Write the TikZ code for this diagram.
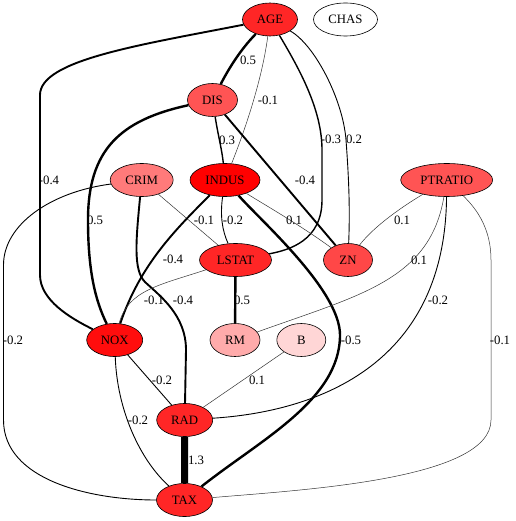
\documentclass[tikz,border=0pt]{standalone}
\usepackage{fontspec}
\setmainfont{Liberation Serif}
\usetikzlibrary{shapes.geometric}

\tikzset{
  var/.style={draw, ellipse, inner sep=0pt, minimum height=33pt, line width=0.6pt,
    font=\fontsize{12.8}{14}\selectfont},
  wlab/.style={inner sep=0pt, font=\fontsize{12.8}{14}\selectfont},
  e1/.style={line width=0.5pt, black!80},
  e2/.style={line width=0.9pt},
  e3/.style={line width=1.4pt},
  e4/.style={line width=1.9pt},
  e5/.style={line width=2.4pt},
  e13/.style={line width=7pt}
}

\begin{document}
\begin{tikzpicture}[x=1pt,y=-1pt,line join=round]
  \useasboundingbox (0,0) rectangle (515,521);

  % variables
  \node[var, fill=red!85, minimum width=55pt] (AGE) at (270,19.5) {AGE};
  \node[var, fill=white, minimum width=64pt] (CHAS) at (345.5,19.5) {CHAS};
  \node[var, fill=red!67, minimum width=50pt] (DIS) at (212.5,100) {DIS};
  \node[var, fill=red!52, minimum width=63pt] (CRIM) at (141.7,180) {CRIM};
  \node[var, fill=red, minimum width=70pt] (INDUS) at (225,180) {INDUS};
  \node[var, fill=red!67, minimum width=92pt] (PTRATIO) at (446.7,180) {PTRATIO};
  \node[var, fill=red!85, minimum width=72pt] (LSTAT) at (235.5,260) {LSTAT};
  \node[var, fill=red!72, minimum width=49pt] (ZN) at (348,260) {ZN};
  \node[var, fill=red!95, minimum width=56pt] (NOX) at (114.7,340) {NOX};
  \node[var, fill=red!33, minimum width=50pt] (RM) at (235,340) {RM};
  \node[var, fill=red!16, minimum width=49pt] (B) at (301.3,340) {B};
  \node[var, fill=red!85, minimum width=56pt] (RAD) at (184.7,420) {RAD};
  \node[var, fill=red!85, minimum width=56pt] (TAX) at (184.5,500) {TAX};

  % edges
  \draw[e5] (AGE) .. controls (240,50) and (228,70) .. (DIS);
  \draw[e1] (AGE) .. controls (262,80) and (245,130) .. (INDUS);
  \draw[e4] (AGE) .. controls (140,45) and (40,60) .. (40,95) -- (40,275)
    .. controls (40,300) and (70,318) .. (NOX);
  \draw[e3] (AGE) .. controls (300,70) and (322,110) .. (322,150) -- (322,200)
    .. controls (322,240) and (290,250) .. (LSTAT);
  \draw[e2] (AGE) .. controls (315,45) and (343,100) .. (346,140)
    .. controls (349,180) and (350,210) .. (ZN);
  \draw[e3] (DIS) .. controls (218,135) and (222,150) .. (INDUS);
  \draw[e5] (DIS) .. controls (120,120) and (88,150) .. (88,220)
    .. controls (88,270) and (95,300) .. (NOX);
  \draw[e4] (DIS) -- (ZN);
  \draw[e1] (CRIM) -- (LSTAT);
  \draw[e4] (CRIM) .. controls (136,240) and (133,270) .. (145,282)
    .. controls (160,296) and (186,315) .. (186,350) -- (RAD);
  \draw[e2] (CRIM) .. controls (50,192) and (3.5,225) .. (3.5,265) -- (3.5,420)
    .. controls (3.5,480) and (90,500) .. (TAX);
  \draw[e2] (INDUS) .. controls (220,215) and (222,230) .. (LSTAT);
  \draw[e1] (INDUS) .. controls (265,205) and (300,225) .. (ZN);
  \draw[e4] (INDUS) .. controls (175,230) and (140,265) .. (NOX);
  \draw[e5] (INDUS) .. controls (260,220) and (340,290) .. (340,335)
    .. controls (340,400) and (260,440) .. (TAX);
  \draw[e1] (PTRATIO) .. controls (405,205) and (375,225) .. (ZN);
  \draw[e1] (PTRATIO) .. controls (430,280) and (360,295) .. (RM);
  \draw[e2] (PTRATIO) .. controls (445,370) and (310,412) .. (RAD);
  \draw[e1] (PTRATIO) .. controls (478,210) and (491,230) .. (491,260) -- (491,420)
    .. controls (491,480) and (300,490) .. (TAX);
  \draw[e5] (LSTAT) -- (RM);
  \draw[e1] (LSTAT) .. controls (160,285) and (128,290) .. (NOX);
  \draw[e2] (NOX) -- (RAD);
  \draw[e2] (NOX) .. controls (117,410) and (140,460) .. (TAX);
  \draw[e1] (B) -- (RAD);
  \draw[e13] (RAD) -- (TAX);

  % weights
  \foreach \n/\x/\y/\t in {
      agedis/248/60/0.5, ageindus/268/100/-0.1, agenox/49/180/-0.4,
      agelstat/331/139/-0.3, agezn/354/139/0.2, disindus/227/140/0.3,
      disnox/95/220/0.5, diszn/305/180/-0.4, crimlstat/204/220/-0.1,
      crimrad/183/300/-0.4, crimtax/13/340/-0.2, induslstat/233/220/-0.2,
      induszn/294/220/0.1, indusnox/173/259/-0.4, industax/351/340/-0.5,
      ptzn/402/220/0.1, ptrm/419/260/0.1, ptrad/438/300/-0.2,
      pttax/500/340/-0.1, lstatrm/242/300/0.5, lstatnox/154/300/-0.1,
      noxrad/162/380/-0.2, noxtax/138/420/-0.2, brad/257/380/0.1,
      radtax/196/460/1.3} {
      \node[wlab] (w\n) at (\x,\y) {\t};
    }
\end{tikzpicture}
\end{document}
